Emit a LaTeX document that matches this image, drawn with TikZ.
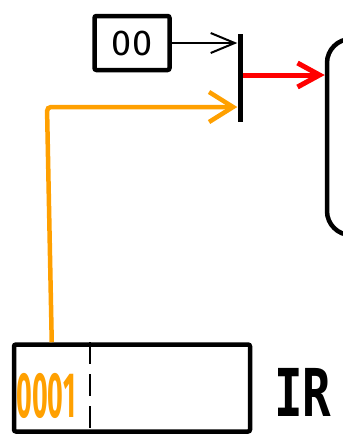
\documentclass[tikz,border=0pt]{standalone}
\usepackage{fontspec}
\setmainfont{Fira Sans}
\newfontfamily\labelfont{DejaVu Sans Mono}
\usetikzlibrary{arrows.meta, positioning, calc}
\definecolor{penorange}{RGB}{255,160,0}
\definecolor{penred}{RGB}{255,0,0}

\begin{document}
\begin{tikzpicture}[x=1pt, y=-1pt,
        box/.style={draw, line width=4.5pt, rounded corners=2pt, inner sep=0pt},
        wire/.style={line width=2pt, -{Straight Barb[length=24pt, width=20pt]}},
        orangewire/.style={penorange, line width=4.5pt, rounded corners=4pt, -{Straight Barb[length=24pt, width=30pt]}},
        redwire/.style={penred, line width=5pt, -{Straight Barb[length=22pt, width=24pt]}},
        divider/.style={line width=2.5pt, dash pattern=on 22pt off 10pt}]
    \clip (0,0) rectangle (343,445);

    % selector value and the mux bar
    \node[box, minimum width=75pt, minimum height=54pt] (sel) at (132,43) {\fontsize{36}{36}\selectfont 00};
    \node[fill, inner sep=0pt, minimum width=5pt, minimum height=88pt] (bar) at (240,78) {};

    % memory, only its left side shows
    \node[box, rounded corners=24pt, minimum width=100pt, minimum height=196pt] (mem) at (377,137) {};

    % instruction register
    \node[box, minimum width=236pt, minimum height=87pt] (ir) at (132,388) {};
    \draw[divider] ([xshift=78]ir.north west) -- ([xshift=78]ir.south west);
    \node[penorange, inner sep=0pt] (opcode) at (46,396) {\scalebox{0.42}[1]{\fontsize{64}{64}\selectfont\bfseries 0001}};
    \node[inner sep=0pt] (irlabel) at (303,392) {\scalebox{0.72}[1]{\labelfont\bfseries\fontsize{66}{66}\selectfont IR}};

    \draw[wire] (sel.east) -- (sel.east -| bar.west);

    \coordinate (bend) at (47,107);
    \draw[orangewire] ([xshift=40]ir.north west) -- (bend) -- (bend -| bar.west);

    \draw[redwire] ([yshift=3]bar.east) -- ([yshift=3]bar.east -| mem.west);
\end{tikzpicture}
\end{document}
